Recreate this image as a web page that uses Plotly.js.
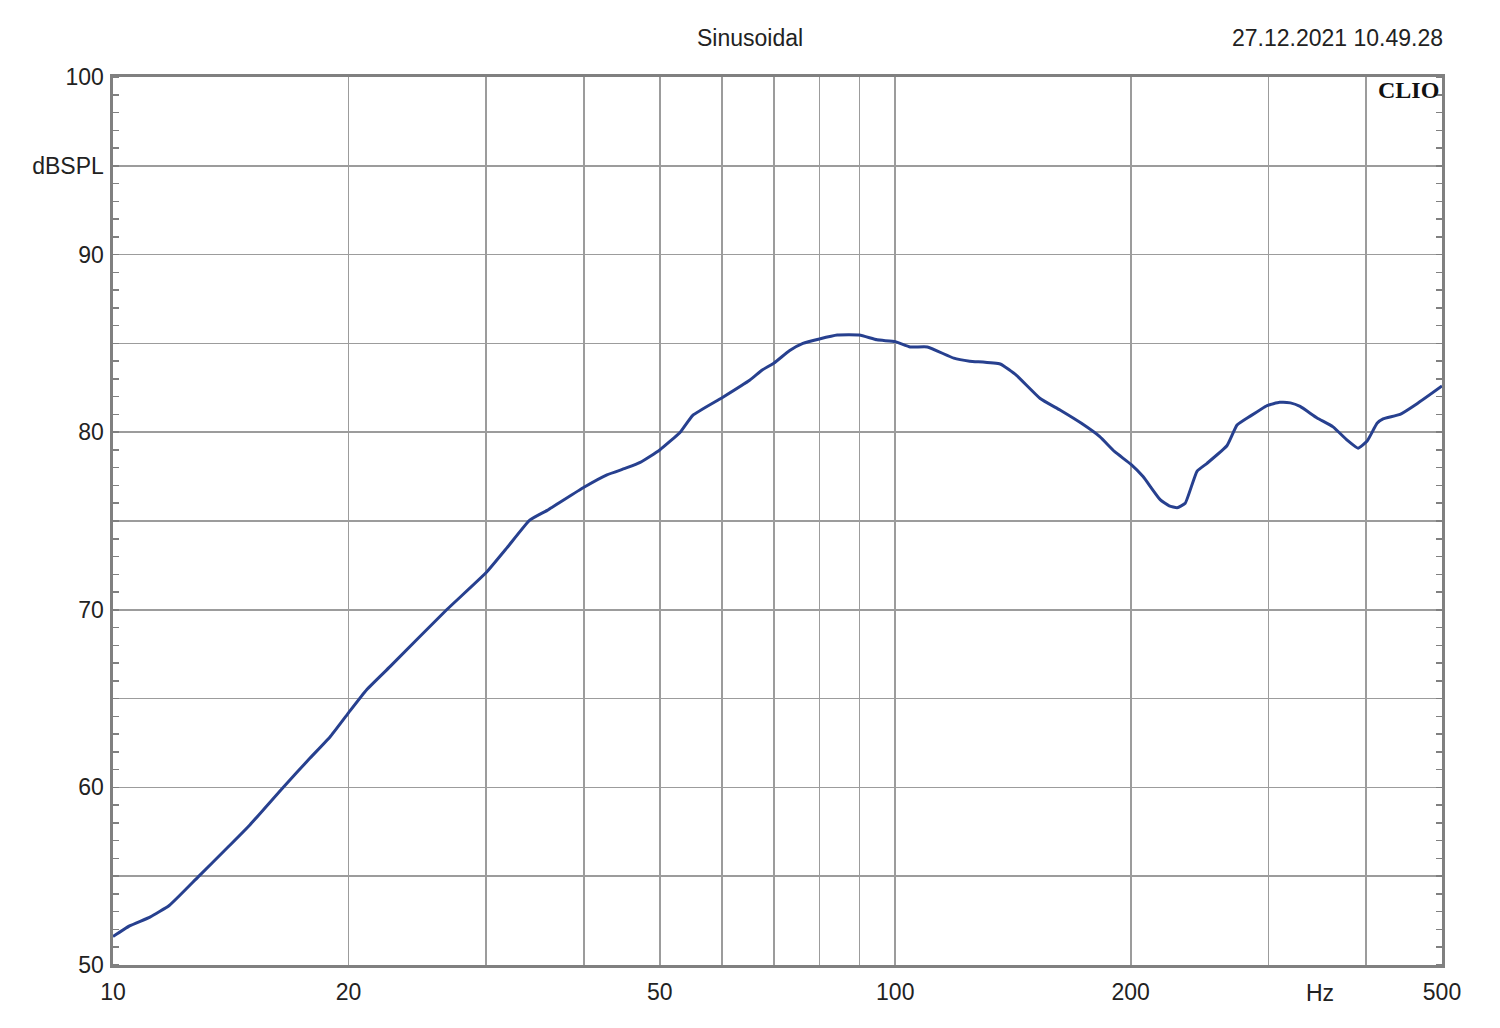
<!DOCTYPE html>
<html>
<head>
<meta charset="utf-8">
<script src="https://cdn.plot.ly/plotly-3.0.1.min.js"></script>
<style>html,body{margin:0;padding:0;background:#fff;}#chart{width:1500px;height:1028px;}</style>
</head>
<body>
<div id="chart"></div>
<script>
// Frequency (Hz) and level (dB SPL)
const freq = [10, 10.5, 11.15, 11.8, 12.84, 14.0, 14.97, 16.5, 17.86, 18.94,
  20, 21.1, 22.6, 26.7, 30, 31.9, 34.1, 35.9, 40, 42.8,
  45.4, 47.2, 50, 53.1, 55.1, 60, 65.2, 67.6, 70, 73.3,
  76.2, 80, 84.3, 90, 94.8, 100, 104.5, 109.9, 118.8, 124.5,
  136.2, 142.9, 153.2, 162.4, 173, 182.6, 190.8, 200, 207.4, 218.1,
  224, 229.3, 234.8, 243.1, 250.4, 265.6, 273.5, 284.2, 298.8, 310,
  320, 329.3, 346.2, 362.8, 378.2, 390.5, 401.1, 413, 420.4, 442,
  464.6, 500];
const spl = [51.6, 52.2, 52.7, 53.35, 54.95, 56.6, 57.9, 60.0, 61.65, 62.84,
  64.2, 65.5, 66.8, 70.0, 72.1, 73.5, 75.05, 75.6, 76.9, 77.6,
  78.0, 78.3, 79.0, 80.0, 80.95, 81.93, 82.94, 83.5, 83.9, 84.6,
  85.0, 85.25, 85.47, 85.47, 85.2, 85.1, 84.8, 84.8, 84.17, 84.0,
  83.84, 83.2, 81.9, 81.25, 80.5, 79.75, 78.9, 78.2, 77.5, 76.2,
  75.85, 75.75, 76.0, 77.8, 78.25, 79.25, 80.4, 80.9, 81.5, 81.68,
  81.65, 81.45, 80.8, 80.3, 79.55, 79.1, 79.5, 80.5, 80.75, 81.0,
  81.6, 82.6];

const xTickVals = [10, 20, 30, 40, 50, 60, 70, 80, 90, 100, 200, 300, 400, 500];
const xTickText = ['10', '20', '', '', '50', '', '', '', '', '100', '200', '', '', '500'];
const yTickVals = [50, 55, 60, 65, 70, 75, 80, 85, 90, 95, 100];
const yTickText = ['50', '', '60', '', '70', '', '80', '', '90', 'dBSPL', '100'];

const titleText = 'Sinusoidal';
const dateText = '27.12.2021 10.49.28';
const brandText = 'CLIO';
const xUnitText = 'Hz';

const FONT = '"Liberation Sans", Arial, sans-serif';
const FS = 23;
const gridCol = '#9c9c9c';
const frameCol = '#808080';

const trace = {
  x: freq, y: spl, type: 'scatter', mode: 'lines',
  line: {color: '#27408f', width: 3, shape: 'spline', smoothing: 0.4},
  hoverinfo: 'x+y'
};

const layout = {
  width: 1500, height: 1028, autosize: false,
  margin: {l: 113, r: 58, t: 77, b: 63, pad: 0},
  paper_bgcolor: '#ffffff', plot_bgcolor: '#ffffff',
  showlegend: false,
  font: {family: FONT, size: FS, color: '#222222'},
  xaxis: {
    type: 'log', range: [1, Math.log10(500)],
    tickmode: 'array', tickvals: xTickVals, ticktext: xTickText,
    ticks: '', ticklabelstandoff: 5,
    showgrid: true, gridcolor: gridCol, gridwidth: 1.6,
    showline: true, linecolor: frameCol, linewidth: 2.6, mirror: true,
    zeroline: false, fixedrange: true,
    tickfont: {family: FONT, size: FS, color: '#222222'}
  },
  yaxis: {
    range: [50, 100],
    tickmode: 'array', tickvals: yTickVals, ticktext: yTickText,
    ticks: '', ticklabelstandoff: 2,
    showgrid: true, gridcolor: gridCol, gridwidth: 1.6,
    showline: true, linecolor: frameCol, linewidth: 2.6, mirror: 'allticks',
    zeroline: false, fixedrange: true,
    tickfont: {family: FONT, size: FS, color: '#222222'},
    minor: {tickmode: 'linear', tick0: 50, dtick: 1, ticks: 'inside', ticklen: 6,
            tickwidth: 1.5, tickcolor: frameCol, showgrid: false}
  },
  annotations: [
    {text: titleText, xref: 'paper', yref: 'paper', x: 0.479, y: 1.044,
     xanchor: 'center', yanchor: 'middle', showarrow: false,
     font: {family: FONT, size: FS, color: '#222222'}},
    {text: dateText, xref: 'paper', yref: 'paper', x: 1, y: 1.044,
     xanchor: 'right', yanchor: 'middle', showarrow: false, xshift: 3,
     font: {family: FONT, size: FS, color: '#222222'}},
    {text: '<b>' + brandText + '</b>', xref: 'paper', yref: 'paper', x: 1, y: 0.985,
     xanchor: 'right', yanchor: 'middle', showarrow: false, xshift: -1,
     font: {family: '"Liberation Serif", "DejaVu Serif", serif', size: 24, color: '#111111'}},
    {text: xUnitText, xref: 'paper', yref: 'paper', x: 0.908, y: -0.0315,
     xanchor: 'center', yanchor: 'middle', showarrow: false,
     font: {family: FONT, size: FS, color: '#222222'}}
  ]
};

Plotly.newPlot('chart', [trace], layout, {displayModeBar: false, staticPlot: true});
</script>
</body>
</html>
